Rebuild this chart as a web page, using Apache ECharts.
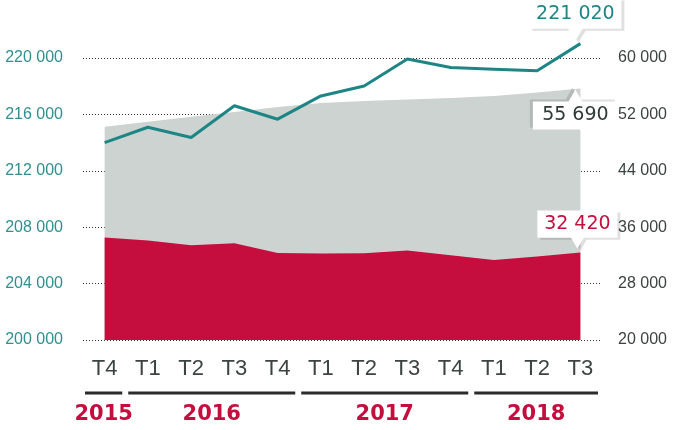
<!DOCTYPE html>
<html>
<head>
<meta charset="utf-8">
<script src="https://cdn.jsdelivr.net/npm/echarts@6/dist/echarts.min.js"></script>
<style>
  html, body { margin: 0; padding: 0; background: #fff; }
  #chart { width: 679px; height: 430px; }
</style>
</head>
<body>
<div id="chart"></div>
<script>
// trimestres
const quarters = ["T4", "T1", "T2", "T3", "T4", "T1", "T2", "T3", "T4", "T1", "T2", "T3"];
// années (groupes de trimestres)
const years = ["2015", "2016", "2017", "2018"];
const yearStart = [0, 1, 5, 9];
const yearEnd = [0, 4, 8, 11];

// courbe (axe gauche)
const totalValues = [214000, 215090, 214360, 216610, 215660, 217310, 218020, 219930, 219330, 219210, 219090, 221020];
// aire grise (axe droit)
const greyValues = [50240, 50940, 51650, 52340, 53050, 53600, 53910, 54100, 54340, 54600, 55090, 55690];
// aire rouge (axe droit)
const redValues = [34550, 34130, 33430, 33710, 32350, 32260, 32300, 32680, 32030, 31330, 31850, 32420];

const teal = "#1e8585";
const red = "#c50d3e";
const grey = "#cdd3d1";
const dark = "#3b4441";
const axisFont = "'Liberation Sans', Arial, sans-serif";

function fmt(v) {
  return String(v).replace(/\B(?=(\d{3})+(?!\d))/g, " ");
}

// bulle avec pointe en bas / en haut
const calloutDown = "path://M0,0 H100 V72 H58 L50,100 L42,72 H0 Z";
const calloutUp = "path://M0,30 H42 L50,0 L58,30 H100 V100 H0 Z";

// transforme la dernière valeur d'une série en bulle annotée
function withCallout(values, color, up, size, dx, gap) {
  const h = size[1];
  const last = values.length - 1;
  return values.map(function (v, i) {
    if (i !== last) return v;
    return {
      value: v,
      symbol: up ? calloutUp : calloutDown,
      symbolSize: size,
      symbolKeepAspect: false,
      symbolOffset: [dx, up ? h / 2 + gap : -(h / 2 + gap)],
      itemStyle: {
        color: "#fff",
        shadowColor: "rgba(0,0,0,0.12)",
        shadowBlur: 0,
        shadowOffsetX: up ? -3 : 3,
        shadowOffsetY: up ? -2 : 2,
      },
      label: {
        show: true,
        position: "inside",
        offset: [0, up ? h * 0.15 : -h * 0.14],
        formatter: fmt(v),
        color: color,
        fontFamily: "'DejaVu Sans', sans-serif",
        fontSize: 19,
      },
    };
  });
}

const chart = echarts.init(document.getElementById("chart"));

const option = {
  animation: false,
  grid: { left: 83, right: 77, top: 58, bottom: 90, outerBoundsMode: "none", containLabel: false },
  xAxis: {
    type: "category",
    data: quarters,
    boundaryGap: true,
    axisLine: { show: false },
    axisTick: { show: false },
    axisLabel: {
      margin: 18,
      color: dark,
      fontFamily: axisFont,
      fontSize: 22,
    },
  },
  yAxis: [
    {
      type: "value",
      min: 200000,
      max: 220000,
      interval: 4000,
      axisLine: { show: false },
      axisTick: { show: false },
      axisLabel: {
        margin: 20,
        color: "#2f8f91",
        fontFamily: axisFont,
        fontSize: 16,
        formatter: fmt,
      },
      splitLine: {
        lineStyle: { color: "#333", type: [1, 2], width: 1 },
      },
    },
    {
      type: "value",
      min: 20000,
      max: 60000,
      interval: 8000,
      axisLine: { show: false },
      axisTick: { show: false },
      splitLine: { show: false },
      axisLabel: {
        margin: 16,
        color: dark,
        fontFamily: axisFont,
        fontSize: 16,
        formatter: fmt,
      },
    },
  ],
  series: [
    {
      type: "line",
      yAxisIndex: 1,
      data: withCallout(greyValues, "#2f3a37", true, [85, 40], -5, 1),
      symbol: "none",
      showSymbol: true,
      clip: false,
      lineStyle: { width: 0 },
      areaStyle: { color: grey, opacity: 1, origin: "start" },
      z: 1,
    },
    {
      type: "line",
      yAxisIndex: 1,
      data: withCallout(redValues, red, false, [80, 38], -3, 4),
      symbol: "none",
      showSymbol: true,
      clip: false,
      lineStyle: { width: 0 },
      areaStyle: { color: red, opacity: 1, origin: "start" },
      z: 2,
    },
    {
      type: "line",
      yAxisIndex: 0,
      data: withCallout(totalValues, teal, false, [92, 42], -5, 3),
      symbol: "none",
      showSymbol: true,
      clip: false,
      lineStyle: { color: teal, width: 3 },
      z: 3,
    },
  ],
};

chart.setOption(option);

// barres et libellés des années, placés avec l'échelle de l'axe
const p0 = chart.convertToPixel({ xAxisIndex: 0 }, 0);
const p1 = chart.convertToPixel({ xAxisIndex: 0 }, 1);
const half = (p1 - p0) / 2;
const graphics = [];
years.forEach(function (y, i) {
  const x1 = chart.convertToPixel({ xAxisIndex: 0 }, yearStart[i]) - half + 2;
  const x2 = chart.convertToPixel({ xAxisIndex: 0 }, yearEnd[i]) + half - 4;
  graphics.push({
    type: "line",
    shape: { x1: x1, y1: 393, x2: x2, y2: 393 },
    style: { stroke: "#2b2b2b", lineWidth: 3 },
  });
  graphics.push({
    type: "text",
    x: (x1 + x2) / 2,
    y: 415,
    style: {
      text: y,
      fill: red,
      font: "bold 21px 'DejaVu Sans', sans-serif",
      textAlign: "center",
      textVerticalAlign: "middle",
    },
  });
});
chart.setOption({ graphic: graphics });
</script>
</body>
</html>
